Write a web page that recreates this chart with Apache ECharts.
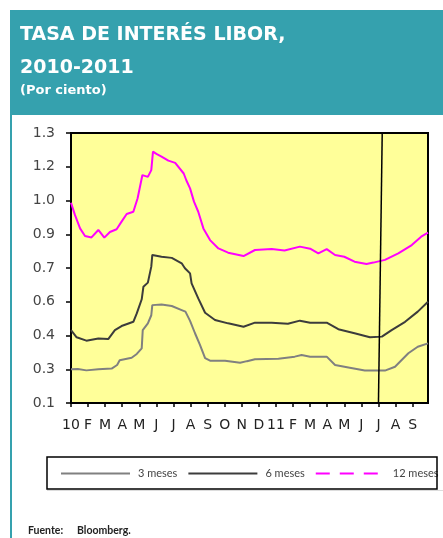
<!DOCTYPE html>
<html>
<head>
<meta charset="utf-8">
<script src="https://cdn.jsdelivr.net/npm/echarts@6/dist/echarts.min.js"></script>
<style>
  html, body { margin: 0; padding: 0; background: #fff; }
  #main { width: 443px; height: 538px; }
</style>
</head>
<body>
<div id="main"></div>
<script>
// meses desde enero 2010 (0 = ene-10)
var monthLabels = ['10', 'F', 'M', 'A', 'M', 'J', 'J', 'A', 'S', 'O', 'N', 'D', '11', 'F', 'M', 'A', 'M', 'J', 'J', 'A', 'S'];
var yLabels = ['0.1', '0.3', '0.4', '0.6', '0.7', '0.9', '1.0', '1.2', '1.3'];

// 3 meses
var t3 = [0, 0.4, 0.9, 1.6, 2.38, 2.7, 2.85, 3.55, 3.85, 4.14, 4.2, 4.5, 4.7, 4.76, 5.3, 5.9, 6.48, 6.7, 6.97, 7.26,
  7.55, 7.85, 8.14, 9.02, 9.9, 10.3, 10.77, 12.14, 13.1, 13.5, 14, 14.97, 15.46, 16.24, 17.2, 18.38, 18.97, 19.75, 20.3, 20.9];
var v3 = [0.250, 0.251, 0.245, 0.250, 0.253, 0.269, 0.290, 0.301, 0.318, 0.343, 0.424, 0.454, 0.490, 0.535, 0.538, 0.531, 0.513, 0.506, 0.465, 0.410,
  0.358, 0.299, 0.288, 0.288, 0.279, 0.286, 0.294, 0.297, 0.306, 0.313, 0.306, 0.306, 0.269, 0.258, 0.244, 0.244, 0.261, 0.321, 0.350, 0.365];

// 6 meses
var t6 = [0, 0.33, 0.9, 1.6, 2.18, 2.57, 2.96, 3.65, 3.85, 4.14, 4.24, 4.5, 4.7, 4.76, 5.3, 5.9, 6.48, 6.67, 6.97, 7.06,
  7.45, 7.85, 8.43, 9.2, 10.1, 10.77, 11.75, 12.7, 13.4, 14, 14.97, 15.65, 16.6, 17.5, 18.2, 18.77, 19.56, 20.3, 20.9];
var v6 = [0.424, 0.392, 0.377, 0.387, 0.384, 0.424, 0.442, 0.461, 0.498, 0.561, 0.617, 0.635, 0.706, 0.758, 0.750, 0.745, 0.721, 0.699, 0.676, 0.632,
  0.565, 0.501, 0.469, 0.454, 0.439, 0.457, 0.457, 0.452, 0.466, 0.457, 0.457, 0.428, 0.410, 0.392, 0.395, 0.424, 0.461, 0.506, 0.550];

// 12 meses
var t12 = [0, 0.23, 0.53, 0.82, 1.2, 1.6, 1.95, 2.28, 2.67, 2.96, 3.26, 3.65, 3.9, 4.18, 4.5, 4.7, 4.8, 5.0, 5.3, 5.7,
  6.1, 6.6, 6.75, 6.97, 7.2, 7.45, 7.75, 8.14, 8.63, 9.2, 10.1, 10.77, 11.75, 12.5, 13.4, 14, 14.48, 14.97, 15.46, 16,
  16.6, 17.3, 17.7, 18.38, 19.16, 19.95, 20.5, 20.9];
var v12 = [0.990, 0.936, 0.876, 0.842, 0.836, 0.869, 0.835, 0.860, 0.872, 0.906, 0.940, 0.950, 1.010, 1.113, 1.105, 1.135, 1.217, 1.207, 1.195, 1.177,
  1.167, 1.120, 1.090, 1.054, 0.995, 0.950, 0.876, 0.824, 0.787, 0.768, 0.753, 0.780, 0.784, 0.778, 0.795, 0.786, 0.765, 0.784, 0.758, 0.750,
  0.728, 0.718, 0.724, 0.736, 0.765, 0.802, 0.839, 0.857];

function pairs(t, v) {
  return t.map(function (x, i) { return [x, v[i]]; });
}

var teal = '#35a1ae';
var chart = echarts.init(document.getElementById('main'));

chart.setOption({
  animation: false,
  grid: {
    left: 71, top: 133, right: 15, bottom: 135,
    show: true,
    backgroundColor: '#ffff99',
    borderColor: '#000',
    borderWidth: 2
  },
  xAxis: {
    type: 'value',
    min: 0,
    max: 20.9,
    interval: 1,
    axisLine: { lineStyle: { color: '#000', width: 2 } },
    axisTick: { length: 4, lineStyle: { color: '#000', width: 1.5 } },
    splitLine: { show: false },
    axisLabel: {
      margin: 15,
      color: '#222',
      fontFamily: 'DejaVu Sans',
      fontSize: 14,
      showMaxLabel: false,
      formatter: function (v) {
        return Number.isInteger(v) ? (monthLabels[v] || '') : '';
      }
    }
  },
  yAxis: {
    type: 'value',
    min: 0.1,
    max: 1.3,
    interval: 0.15,
    axisLine: { show: true, lineStyle: { color: '#000', width: 2 } },
    axisTick: { show: true, length: 5, lineStyle: { color: '#000', width: 1.5 } },
    splitLine: { show: false },
    axisLabel: {
      margin: 16,
      color: '#444',
      fontFamily: 'DejaVu Sans',
      fontSize: 14,
      formatter: function (v) {
        return yLabels[Math.round((v - 0.1) / 0.15)];
      }
    }
  },
  legend: {
    left: 60,
    top: 468,
    padding: 0,
    itemWidth: 69,
    itemHeight: 10,
    itemGap: 10,
    itemStyle: { opacity: 0 },
    textStyle: { fontFamily: 'Lato', fontSize: 11, color: '#444', padding: [0, 0, 0, 3] },
    data: [
      { name: '3 meses' },
      { name: '6 meses' },
      { name: '12 meses', lineStyle: { type: [14, 10] } }
    ]
  },
  series: [
    {
      name: '3 meses', type: 'line', symbol: 'none',
      lineStyle: { color: '#808080', width: 2 }, itemStyle: { color: '#808080' },
      data: pairs(t3, v3)
    },
    {
      name: '6 meses', type: 'line', symbol: 'none',
      lineStyle: { color: '#3c3c3c', width: 2 }, itemStyle: { color: '#3c3c3c' },
      data: pairs(t6, v6)
    },
    {
      name: '12 meses', type: 'line', symbol: 'none',
      lineStyle: { color: '#ff00ff', width: 2 }, itemStyle: { color: '#ff00ff' },
      data: pairs(t12, v12),
      markLine: {
        silent: true,
        symbol: 'none',
        label: { show: false },
        lineStyle: { color: '#000', width: 1.5, type: 'solid' },
        data: [[{ coord: [18.22, 1.3] }, { coord: [18, 0.1] }]]
      }
    }
  ],
  graphic: [
    // cabecera
    { type: 'rect', shape: { x: 10, y: 10, width: 433, height: 105 }, style: { fill: teal }, silent: true },
    { type: 'rect', shape: { x: 10, y: 115, width: 2, height: 423 }, style: { fill: teal }, silent: true },
    { type: 'text', style: { x: 20, y: 35, text: 'TASA DE INTERÉS LIBOR,', fill: '#fff', font: 'bold 19px "DejaVu Sans"', verticalAlign: 'middle' } },
    { type: 'text', style: { x: 20, y: 68, text: '2010-2011', fill: '#fff', font: 'bold 19px "DejaVu Sans"', verticalAlign: 'middle' } },
    { type: 'text', style: { x: 20, y: 91, text: '(Por ciento)', fill: '#fff', font: 'bold 13px "DejaVu Sans"', verticalAlign: 'middle' } },
    // caja de la leyenda
    { type: 'rect', shape: { x: 47, y: 457, width: 390, height: 32 }, style: { fill: 'none', stroke: '#000', lineWidth: 1.5 }, z: 10, silent: true },
    { type: 'rect', shape: { x: 47, y: 490, width: 396, height: 1 }, style: { fill: '#dcdcdc' }, silent: true },
    // fuente
    { type: 'text', style: { x: 28, y: 531, text: 'Fuente:', fill: '#222', font: 'bold 10.5px Lato', verticalAlign: 'middle' } },
    { type: 'text', style: { x: 77, y: 531, text: 'Bloomberg.', fill: '#222', font: 'bold 10.5px Lato', verticalAlign: 'middle' } }
  ]
});
</script>
</body>
</html>
